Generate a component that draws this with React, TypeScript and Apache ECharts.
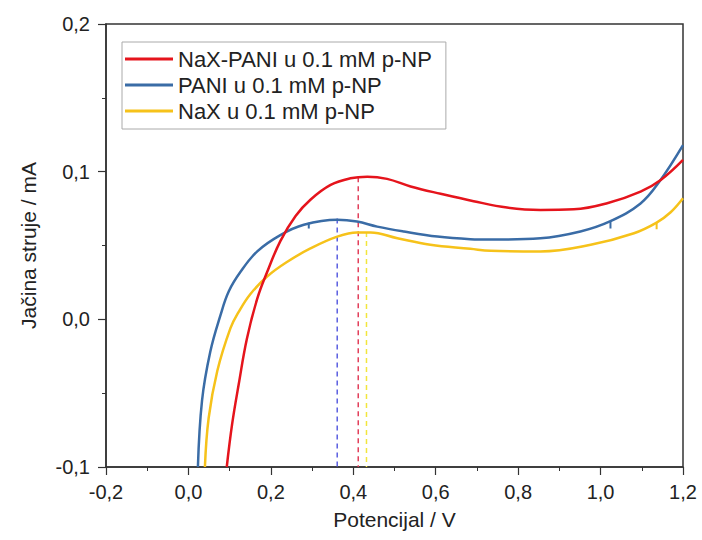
import React, { useEffect, useRef } from "react";
import * as echarts from "echarts";

const xTicks = { min: -0.2, max: 1.2, interval: 0.2 };
const yTicks = { min: -0.1, max: 0.2, interval: 0.1 };

const seriesNames = [
  "NaX-PANI u 0.1 mM p-NP",
  "PANI u 0.1 mM p-NP",
  "NaX u 0.1 mM p-NP",
];

const redX = [0.093, 0.106, 0.122, 0.142, 0.167, 0.191, 0.223, 0.26, 0.296, 0.345, 0.393, 0.434, 0.482, 0.539, 0.612, 0.692, 0.773, 0.854, 0.935, 1.016, 1.097, 1.146, 1.2];
const redY = [-0.1, -0.071, -0.044, -0.013, 0.014, 0.032, 0.053, 0.07, 0.081, 0.091, 0.0955, 0.0966, 0.0951, 0.09, 0.085, 0.08, 0.0757, 0.0741, 0.0745, 0.0786, 0.0865, 0.0944, 0.108];

const blueX = [0.023, 0.033, 0.053, 0.078, 0.098, 0.126, 0.167, 0.223, 0.28, 0.361, 0.409, 0.458, 0.523, 0.604, 0.684, 0.733, 0.854, 0.951, 1.024, 1.097, 1.142, 1.2];
const blueY = [-0.1, -0.055, -0.022, 0.003, 0.019, 0.032, 0.046, 0.057, 0.064, 0.0674, 0.0662, 0.0628, 0.0595, 0.0561, 0.0543, 0.054, 0.0549, 0.0595, 0.0665, 0.0785, 0.093, 0.118];

const yellowX = [0.04, 0.049, 0.07, 0.102, 0.122, 0.15, 0.191, 0.24, 0.296, 0.361, 0.409, 0.442, 0.507, 0.587, 0.684, 0.733, 0.854, 0.976, 1.081, 1.136, 1.17, 1.2];
const yellowY = [-0.1, -0.067, -0.035, -0.006, 0.005, 0.017, 0.029, 0.039, 0.048, 0.056, 0.0588, 0.0588, 0.0549, 0.0505, 0.0478, 0.0464, 0.046, 0.0505, 0.0583, 0.0655, 0.0725, 0.082];

// small measurement glitches hanging below the curves: [x, top, bottom], series index
const glitchX = [0.292, 1.024, 1.136];
const glitchTop = [0.0655, 0.0665, 0.0655];
const glitchBottom = [0.0615, 0.0615, 0.061];
const glitchSeries = [1, 1, 2];

// dashed peak markers (red, blue, yellow)
const peakX = [0.412, 0.361, 0.432];
const peakY = [0.0962, 0.0682, 0.0592];

const colors = ["#e5141c", "#3a6ca6", "#f6c21a"];
const dashColors = ["#e2405c", "#5a5ee0", "#f2e63c"];

const zip = (xs: number[], ys: number[]) => xs.map((x, i) => [x, ys[i]]);
const fmt = (v: number) => (Math.abs(v) < 1e-9 ? 0 : v).toFixed(1).replace(".", ",");

export default function App() {
  const ref = useRef<HTMLDivElement>(null);
  useEffect(() => {
    if (!ref.current) return;
    const chart = echarts.init(ref.current, null, { renderer: "svg" });
    const font = "'Liberation Sans', Arial, sans-serif";
    const curves = [zip(redX, redY), zip(blueX, blueY), zip(yellowX, yellowY)];
    const series: any[] = curves.map((d, i) => ({
      name: seriesNames[i],
      type: "line",
      data: d,
      symbol: "none",
      smooth: 0.4,
      lineStyle: { color: colors[i], width: 2.5 },
      itemStyle: { color: colors[i] },
      z: 5 - i,
    }));
    glitchX.forEach((x, i) => {
      const c = colors[glitchSeries[i]];
      series.push({
        type: "line",
        data: [
          [x, glitchTop[i]],
          [x, glitchBottom[i]],
        ],
        symbol: "none",
        silent: true,
        lineStyle: { color: c, width: 2 },
        z: 5 - glitchSeries[i],
      });
    });
    peakX.forEach((x, i) => {
      series.push({
        type: "line",
        data: [
          [x, peakY[i]],
          [x, yTicks.min],
        ],
        symbol: "none",
        silent: true,
        lineStyle: { color: dashColors[i], width: 1.5, type: [5, 4] },
        z: 1,
      });
    });
    const axisCommon = {
      type: "value",
      nameLocation: "middle",
      nameTextStyle: { fontSize: 21, color: "#222", fontFamily: font },
      axisLine: { show: true, onZero: false, lineStyle: { color: "#333", width: 1.5 } },
      axisTick: { show: true, length: 8, lineStyle: { color: "#333", width: 1.2 } },
      minorTick: { show: true, splitNumber: 2, length: 4, lineStyle: { color: "#333", width: 1 } },
      splitLine: { show: false },
    };
    chart.setOption({
      animation: false,
      backgroundColor: "#fff",
      textStyle: { fontFamily: font },
      grid: {
        left: 106,
        right: 19,
        top: 24,
        bottom: 73,
        show: true,
        borderColor: "#333",
        borderWidth: 1.5,
        backgroundColor: "transparent",
      },
      legend: {
        data: seriesNames,
        orient: "vertical",
        left: 122,
        top: 42,
        padding: [6, 14, 7, 3],
        icon: "rect",
        itemWidth: 48,
        itemHeight: 3,
        itemGap: 4,
        borderColor: "#aaa",
        borderWidth: 1,
        textStyle: { fontSize: 22, color: "#222", fontFamily: font },
      },
      xAxis: {
        ...axisCommon,
        min: xTicks.min,
        max: xTicks.max,
        interval: xTicks.interval,
        name: "Potencijal / V",
        nameGap: 42,
        axisLabel: { fontSize: 20, color: "#222", margin: 15, formatter: fmt, fontFamily: font },
      },
      yAxis: {
        ...axisCommon,
        min: yTicks.min,
        max: yTicks.max,
        interval: yTicks.interval,
        name: "Jačina struje / mA",
        nameGap: 67,
        axisLabel: { fontSize: 20, color: "#222", margin: 16, formatter: fmt, fontFamily: font },
      },
      series,
    });
    return () => chart.dispose();
  }, []);
  return <div ref={ref} style={{ width: 702, height: 540, position: "absolute", left: 0, top: 0 }} />;
}
